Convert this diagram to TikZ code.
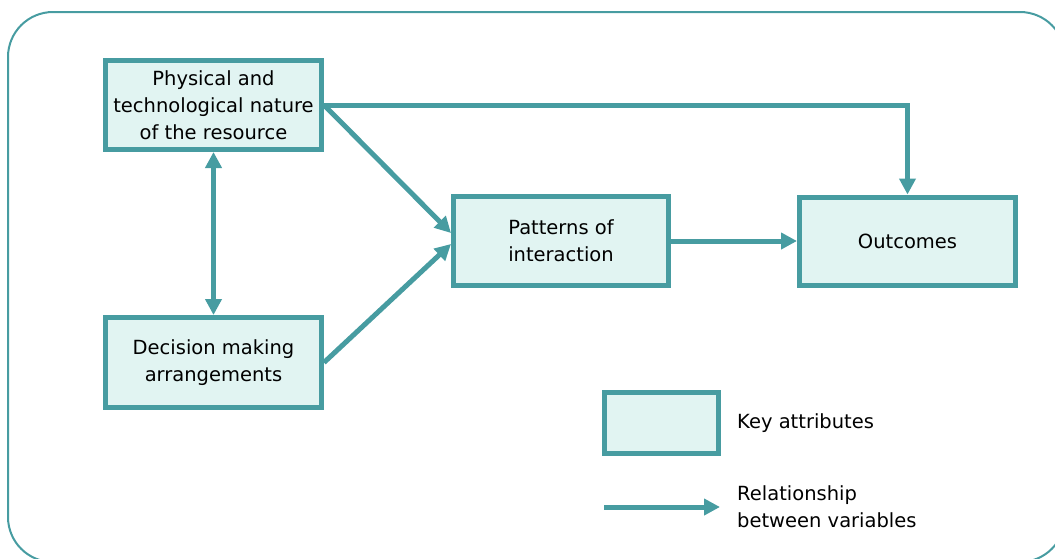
\documentclass[tikz,border=0pt]{standalone}
\usepackage{fontspec}
\setmainfont{DejaVu Sans}
\usetikzlibrary{arrows.meta}
\definecolor{teal1}{RGB}{71,156,161}
\definecolor{fill1}{RGB}{225,244,242}
\tikzset{
  keybox/.style={draw=teal1, fill=fill1, line width=5pt, inner sep=0pt, align=center,
    font=\fontsize{19.5pt}{27pt}\selectfont},
  rel/.style={draw=teal1, line width=5pt, -{Triangle[length=16pt,width=16pt]}},
  relboth/.style={draw=teal1, line width=5pt, {Triangle[length=16pt,width=16pt]}-{Triangle[length=16pt,width=16pt]}},
  legtext/.style={anchor=west, align=left, inner sep=0pt, font=\fontsize{19.5pt}{27pt}\selectfont},
  frame/.style={draw=teal1, line width=2pt, rounded corners=45pt}
}
\begin{document}
\begin{tikzpicture}[x=1pt, y=-1pt]
\useasboundingbox (0,0) rectangle (1055,558);
\begin{scope}
\clip (0,0) rectangle (1055,558);
\draw[frame] (8,12) rectangle (1065,562);
\end{scope}
\node[keybox, minimum width=216pt, minimum height=89pt] (phys) at (213.5,105) {Physical and\\technological nature\\of the resource};
\node[keybox, minimum width=216pt, minimum height=90pt] (dec) at (213.5,362.5) {Decision making\\arrangements};
\node[keybox, minimum width=215pt, minimum height=89pt] (pat) at (561,241) {Patterns of\\interaction};
\node[keybox, minimum width=216pt, minimum height=88pt] (out) at (907.5,241) {Outcomes};
\node[keybox, minimum width=114pt, minimum height=61pt] (leg) at (661.5,423) {};
\node[legtext] (legt1) at (737,423) {Key attributes};
\node[legtext] (legt2) at (737,507) {Relationship\\between variables};
\coordinate (la) at (604,507);
\coordinate (lb) at (720,507);
\draw[rel] (phys.east) -| (out.north);
\draw[rel] (phys.east) -- ([yshift=8pt]pat.west);
\draw[rel] (dec.east) -- ([yshift=-3pt]pat.west);
\draw[rel] (pat.east) -- (out.west);
\draw[relboth] (phys.south) -- (dec.north);
\draw[rel] (la) -- (lb);
\end{tikzpicture}
\end{document}
